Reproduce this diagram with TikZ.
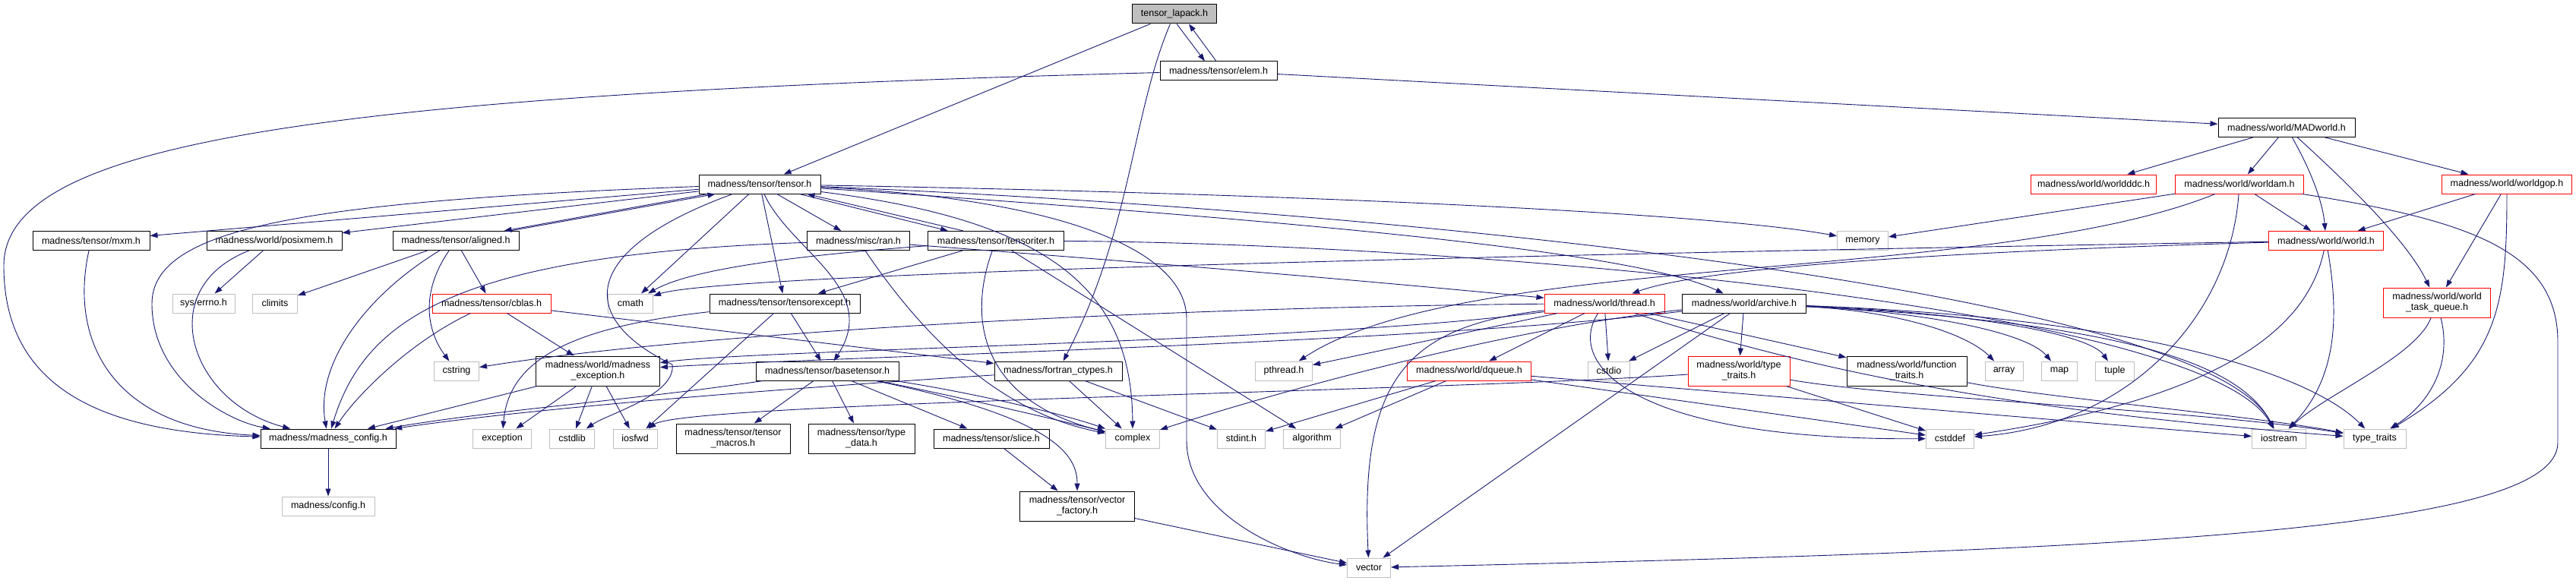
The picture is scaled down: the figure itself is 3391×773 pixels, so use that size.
\documentclass[tikz,border=0pt]{standalone}
\usepackage{fontspec}
\setmainfont{Liberation Sans}
\usetikzlibrary{arrows.meta}
\definecolor{edgeblue}{RGB}{25,25,112}
\definecolor{sysgray}{RGB}{191,191,191}
\definecolor{rootgray}{RGB}{191,191,191}

\begin{document}
\begin{tikzpicture}[x=1pt, y=-1pt,
    hdr/.style={draw=black, fill=white, line width=1pt, inner sep=0pt, minimum height=25pt, align=center, font=\fontsize{12.5}{14}\selectfont},
    sys/.style={hdr, draw=sysgray},
    trunc/.style={hdr, draw=red},
    tall/.style={minimum height=39pt},
    inc/.style={-{Triangle[length=10pt, width=7pt]}, edgeblue, line width=0.9pt}
]
\useasboundingbox (0,0) rectangle (3391,773);

\node[hdr, fill=rootgray, minimum width=111pt] (lapack) at (1546,18.5) {tensor\_lapack.h};
\node[hdr, minimum width=154pt] (elem) at (1604,93.5) {madness/tensor/elem.h};
\node[hdr, minimum width=180pt] (madworld) at (3010,168) {madness/world/MADworld.h};
\node[hdr, minimum width=160pt] (tensor) at (1000,242.5) {madness/tensor/tensor.h};
\node[trunc, minimum width=165pt] (worldddc) at (2756,242.5) {madness/world/worldddc.h};
\node[trunc, minimum width=169pt] (worldam) at (2948,242.5) {madness/world/worldam.h};
\node[trunc, minimum width=171pt] (worldgop) at (3300,242.5) {madness/world/worldgop.h};
\node[hdr, minimum width=154pt] (mxm) at (120,317) {madness/tensor/mxm.h};
\node[hdr, minimum width=178pt] (posixmem) at (361,317) {madness/world/posixmem.h};
\node[hdr, minimum width=166pt] (aligned) at (600,317) {madness/tensor/aligned.h};
\node[hdr, minimum width=135pt] (ran) at (1130,317) {madness/misc/ran.h};
\node[hdr, minimum width=179pt] (tensoriter) at (1311,317) {madness/tensor/tensoriter.h};
\node[sys, minimum width=67pt] (memory) at (2452,317) {memory};
\node[trunc, minimum width=151pt] (world) at (3062,317) {madness/world/world.h};
\node[sys, minimum width=82pt] (errno) at (268,399.5) {sys/errno.h};
\node[sys, minimum width=59pt] (climits) at (362,399.5) {climits};
\node[trunc, minimum width=156pt] (cblas) at (647,399.5) {madness/tensor/cblas.h};
\node[sys, minimum width=59pt] (cmath) at (830,399.5) {cmath};
\node[hdr, minimum width=198pt] (tensorexcept) at (1033,399.5) {madness/tensor/tensorexcept.h};
\node[trunc, minimum width=158pt] (thread) at (2112,399.5) {madness/world/thread.h};
\node[hdr, minimum width=163pt] (archive) at (2296,399.5) {madness/world/archive.h};
\node[trunc, tall, minimum width=141pt] (taskq) at (3208,398.5) {madness/world/world\\\_task\_queue.h};
\node[sys, minimum width=59pt] (cstring) at (601,488.5) {cstring};
\node[hdr, tall, minimum width=163pt] (madexc) at (787,488.5) {madness/world/madness\\\_exception.h};
\node[hdr, minimum width=188pt] (basetensor) at (1089,488.5) {madness/tensor/basetensor.h};
\node[hdr, minimum width=168pt] (fortran) at (1393,488.5) {madness/fortran\_ctypes.h};
\node[sys, minimum width=75pt] (pthread) at (1690,488.5) {pthread.h};
\node[trunc, minimum width=163pt] (dqueue) at (1934,488.5) {madness/world/dqueue.h};
\node[sys, minimum width=55pt] (cstdio) at (2118,488.5) {cstdio};
\node[trunc, tall, minimum width=134pt] (wtraits) at (2289,488.5) {madness/world/type\\\_traits.h};
\node[hdr, tall, minimum width=158pt] (ftraits) at (2510,488.5) {madness/world/function\\\_traits.h};
\node[sys, minimum width=50pt] (array) at (2638,488.5) {array};
\node[sys, minimum width=47pt] (map) at (2711,488.5) {map};
\node[sys, minimum width=51pt] (tuple) at (2784,488.5) {tuple};
\node[hdr, minimum width=178pt] (madcfg) at (432,577.5) {madness/madness\_config.h};
\node[sys, minimum width=77pt] (exception) at (661,577.5) {exception};
\node[sys, minimum width=59pt] (cstdlib) at (753,577.5) {cstdlib};
\node[sys, minimum width=58pt] (iosfwd) at (836,577.5) {iosfwd};
\node[hdr, tall, minimum width=150pt] (macros) at (965,577.5) {madness/tensor/tensor\\\_macros.h};
\node[hdr, tall, minimum width=140pt] (typedata) at (1134,577.5) {madness/tensor/type\\\_data.h};
\node[hdr, minimum width=152pt] (slice) at (1305,577.5) {madness/tensor/slice.h};
\node[sys, minimum width=71pt] (complex) at (1491,577.5) {complex};
\node[sys, minimum width=63pt] (stdint) at (1634,577.5) {stdint.h};
\node[sys, minimum width=75pt] (algorithm) at (1727,577.5) {algorithm};
\node[sys, minimum width=63pt] (cstddef) at (2567,577.5) {cstddef};
\node[sys, minimum width=71pt] (iostream) at (3000,577.5) {iostream};
\node[sys, minimum width=82pt] (typetraits) at (3126,577.5) {type\_traits};
\node[sys, minimum width=122pt] (config) at (432,666.5) {madness/config.h};
\node[hdr, tall, minimum width=151pt] (vecfac) at (1418,666.5) {madness/tensor/vector\\\_factory.h};
\node[sys, minimum width=57pt] (vector) at (1802,747.5) {vector};

% tensor_lapack.h and elem.h
\draw[inc] ([xshift=3pt]lapack.south) -- ([xshift=-18pt]elem.north);
\draw[inc] ([xshift=-3pt]elem.north) -- ([xshift=19pt]lapack.south);
\draw[inc] (lapack) -- (tensor);
\draw[inc] (lapack) .. controls (1490,150) and (1490,300) .. (fortran);
\draw[inc] (elem) .. controls (400,125) and (5,190) .. (5,350) .. controls (5,520) and (150,570) .. (madcfg);
\draw[inc] (elem) -- (madworld);

% world
\draw[inc] (madworld) -- (worldddc);
\draw[inc] (madworld) -- (worldam);
\draw[inc] (madworld) .. controls (3045,230) and (3058,270) .. (world);
\draw[inc] (madworld) .. controls (3100,250) and (3170,320) .. (taskq);
\draw[inc] (madworld) -- (worldgop);
\draw[inc] (worldam) -- (memory);
\draw[inc] (worldam) .. controls (2620,375) and (1930,330) .. (pthread);
\draw[inc] (worldam) -- (world);
\draw[inc] (worldam) .. controls (2935,420) and (2800,560) .. (cstddef);
\draw[inc] (worldam) .. controls (3250,290) and (3367,330) .. (3367,450) -- (3367,583) .. controls (3367,700) and (2800,725) .. (vector);
\draw[inc] (worldgop) -- (world);
\draw[inc] (worldgop) -- (taskq);
\draw[inc] (worldgop) .. controls (3300,400) and (3290,480) .. (typetraits);
\draw[inc] (world) .. controls (2600,330) and (2250,350) .. (thread);
\draw[inc] (world) .. controls (2000,335) and (950,360) .. (cmath);
\draw[inc] (world) .. controls (3040,420) and (2950,520) .. (cstddef);
\draw[inc] (world) .. controls (3080,420) and (3075,500) .. (iostream);
\draw[inc] (taskq) .. controls (3180,470) and (3060,520) .. (iostream);
\draw[inc] (taskq) .. controls (3228,478) and (3200,530) .. (typetraits);

% thread.h, archive.h
\draw[inc] (thread) -- (pthread);
\draw[inc] (thread) .. controls (1500,405) and (900,440) .. (cstring);
\draw[inc] (thread) .. controls (1750,450) and (1000,460) .. (madexc);
\draw[inc] (thread) -- (dqueue);
\draw[inc] (thread) -- (cstdio);
\draw[inc] (thread) .. controls (2060,480) and (2150,580) .. (cstddef);
\draw[inc] (thread) -- (ftraits);
\draw[inc] (thread) .. controls (2420,500) and (2700,545) .. (typetraits);
\draw[inc] (thread) .. controls (1850,430) and (1790,500) .. (vector);
\draw[inc] (archive) -- (cstdio);
\draw[inc] (archive) -- (vector);
\draw[inc] (archive) -- (wtraits);
\draw[inc] (archive) .. controls (1900,450) and (1100,470) .. (madexc);
\draw[inc] (archive) .. controls (2000,430) and (1700,510) .. (complex);
\draw[inc] (archive) .. controls (2500,410) and (2590,440) .. (array);
\draw[inc] (archive) .. controls (2550,412) and (2670,440) .. (map);
\draw[inc] (archive) .. controls (2600,412) and (2750,440) .. (tuple);
\draw[inc] (archive) .. controls (2800,425) and (2950,480) .. (iostream);
\draw[inc] (archive) .. controls (2850,420) and (3050,500) .. (typetraits);
\draw[inc] (dqueue) -- (algorithm);
\draw[inc] (dqueue) -- (stdint);
\draw[inc] (dqueue) -- (cstddef);
\draw[inc] (dqueue) -- (iostream);
\draw[inc] (wtraits) .. controls (1900,515) and (900,530) .. (iosfwd);
\draw[inc] (wtraits) -- (cstddef);
\draw[inc] (wtraits) .. controls (2500,525) and (2900,540) .. (typetraits);
\draw[inc] (ftraits) .. controls (2700,525) and (2950,545) .. (typetraits);

% tensor side
\draw[inc] (madexc) -- (madcfg);
\draw[inc] (madexc) -- (exception);
\draw[inc] (madexc) -- (cstdlib);
\draw[inc] (madexc) -- (iosfwd);
\draw[inc] (cblas) .. controls (540,450) and (470,520) .. (madcfg);
\draw[inc] (cblas) -- (madexc);
\draw[inc] (cblas) -- (fortran);
\draw[inc] ([xshift=12pt]tensor.south west) -- ([xshift=-20pt]aligned.north east);
\draw[inc] ([xshift=-12pt]aligned.north east) -- ([xshift=22pt]tensor.south west);
\draw[inc] (aligned) .. controls (480,390) and (415,480) .. (madcfg);
\draw[inc] (aligned) -- (climits);
\draw[inc] (aligned) .. controls (550,390) and (565,440) .. (cstring);
\draw[inc] (aligned) -- (cblas);
\draw[inc] (posixmem) -- (errno);
\draw[inc] (posixmem) .. controls (200,380) and (250,530) .. (madcfg);
\draw[inc] (mxm) .. controls (90,450) and (150,565) .. (madcfg);
\draw[inc] (tensor) -- (mxm);
\draw[inc] (tensor) -- (posixmem);
\draw[inc] (tensor) .. controls (400,265) and (200,300) .. (200,400) .. controls (200,500) and (300,555) .. (madcfg);
\draw[inc] (tensor) -- (cmath);
\draw[inc] (tensor) -- (ran);
\draw[inc] ([xshift=-28pt]tensor.south east) -- ([xshift=-63pt]tensoriter.north);
\draw[inc] ([xshift=-43pt]tensoriter.north) -- ([xshift=-18pt]tensor.south east);
\draw[inc] (tensor) -- (tensorexcept);
\draw[inc] (tensor) .. controls (1040,330) and (1160,380) .. (basetensor);
\draw[inc] (tensor) .. controls (760,330) and (760,420) .. (885,480) .. controls (890,520) and (800,545) .. (cstdlib);
\draw[inc] (tensor) .. controls (1380,290) and (1490,380) .. (complex);
\draw[inc] (tensor) .. controls (1400,262) and (1562,330) .. (1562,420) -- (1562,580) .. controls (1562,680) and (1700,735) .. (vector);
\draw[inc] (tensor) .. controls (1700,255) and (2250,280) .. (memory);
\draw[inc] (tensor) .. controls (1700,290) and (2150,330) .. (archive);
\draw[inc] (tensor) .. controls (1800,275) and (2900,380) .. (iostream);
\draw[inc] (tensoriter) -- (tensorexcept);
\draw[inc] (tensoriter) .. controls (1270,430) and (1300,530) .. (complex);
\draw[inc] (tensoriter) -- (algorithm);
\draw[inc] (tensoriter) .. controls (1900,320) and (2900,400) .. (iostream);
\draw[inc] (tensoriter) .. controls (1000,340) and (900,360) .. (cmath);
\draw[inc] (ran) .. controls (600,335) and (480,420) .. (madcfg);
\draw[inc] (ran) .. controls (1200,420) and (1300,540) .. (complex);
\draw[inc] (ran) .. controls (1700,360) and (1900,380) .. (thread);
\draw[inc] (basetensor) .. controls (850,525) and (650,540) .. (madcfg);
\draw[inc] (basetensor) -- (macros);
\draw[inc] (basetensor) -- (typedata);
\draw[inc] (basetensor) -- (slice);
\draw[inc] (basetensor) .. controls (1250,520) and (1380,550) .. (complex);
\draw[inc] (basetensor) .. controls (1270,515) and (1400,545) .. (complex);
\draw[inc] (basetensor) .. controls (1390,550) and (1418,600) .. (vecfac);
\draw[inc] (fortran) -- (complex);
\draw[inc] (fortran) -- (stdint);
\draw[inc] (fortran) .. controls (900,520) and (650,545) .. (madcfg);
\draw[inc] (tensorexcept) -- (basetensor);
\draw[inc] (tensorexcept) -- (iosfwd);
\draw[inc] (tensorexcept) .. controls (760,430) and (670,470) .. (exception);
\draw[inc] (slice) -- (vecfac);
\draw[inc] (vecfac) -- (vector);
\draw[inc] (madcfg) -- (config);
\end{tikzpicture}
\end{document}
